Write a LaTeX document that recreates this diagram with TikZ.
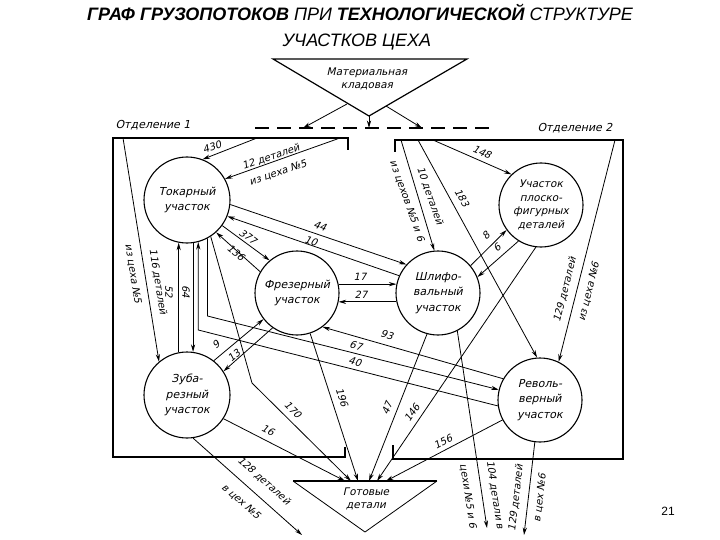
\documentclass[tikz,border=0pt]{standalone}
\usepackage{fontspec}
\setmainfont{Liberation Sans}
\newfontfamily\dfont{DejaVu Sans}[FakeSlant=0.22]
\usetikzlibrary{arrows.meta}
\newcommand\lblfont{\dfont\fontsize{10}{12}\selectfont}
\newcommand\secfont{\dfont\fontsize{11}{15.5}\selectfont}
\newcommand\secfontb{\dfont\fontsize{10.5}{13.5}\selectfont}
\begin{document}
\begin{tikzpicture}[x=1pt,y=-1pt,
 sec/.style={circle,draw,line width=1.1pt,inner sep=0pt,minimum size=84pt,align=center,font=\secfont},
 flow/.style={line width=0.8pt,-{Stealth[length=7.5pt,width=4.2pt]}},
 frame/.style={line width=1.2pt},
 lab/.style={font=\lblfont,inner sep=0.5pt},
 twolab/.style={font=\lblfont,inner sep=0.5pt,align=center}]
\useasboundingbox (0,0) rectangle (720,540);
\fill[white] (0,0) rectangle (720,540);

% title
\node[font=\fontsize{18}{20}\selectfont\itshape,anchor=base,inner sep=0pt] (title1) at (360,20.5)
  {\textbf{ГРАФ ГРУЗОПОТОКОВ} ПРИ \textbf{ТЕХНОЛОГИЧЕСКОЙ} СТРУКТУРЕ};
\node[font=\fontsize{18}{20}\selectfont\itshape,anchor=base,inner sep=0pt] (title2) at (357,46.5)
  {УЧАСТКОВ ЦЕХА};
\node[font=\fontsize{12}{14}\selectfont,inner sep=0pt] (page) at (668,511) {21};

% warehouse triangle
\coordinate (m1) at (273,59);
\coordinate (m2) at (467,59);
\coordinate (m3) at (369,116);
\draw[frame] (m1) -- (m2) -- (m3) -- cycle;
\node[font=\secfontb,align=center] (mat) at (367,79) {Материальная\\кладовая};
\coordinate (d1) at (255,128);
\coordinate (d2) at (490,128);
\draw[line width=1.2pt,dash pattern=on 14pt off 8pt] (d1) -- (d2);
\coordinate (ma) at (369,128);
\coordinate (ml) at (347,104);
\coordinate (mla) at (303,128);
\coordinate (mr) at (386,106);
\coordinate (mra) at (422,128);
\draw[flow] (m3) -- (ma);
\draw[flow] (ml) -- (mla);
\draw[flow] (mr) -- (mra);

% departments
\node[font=\secfont] (otd1) at (153,125) {Отделение 1};
\node[font=\secfont] (otd2) at (575,128) {Отделение 2};
\draw[frame] (348,150) -- (348,138) -- (113,138) -- (113,457) -- (345,457) -- (345,447);
\draw[frame] (395,152) -- (395,140) -- (623,140) -- (623,459) -- (393,459) -- (393,445);

% sections
\node[sec,minimum size=86pt] (tok) at (187,200) {Токарный\\участок};
\node[sec,minimum size=86pt] (zub) at (187,395) {Зуба-\\резный\\участок};
\node[sec] (frez) at (297,293) {Фрезерный\\участок};
\node[sec] (shl) at (438,293) {Шлифо-\\вальный\\участок};
\node[sec,font=\secfontb] (plo) at (541,205) {Участок\\плоско-\\фигурных\\деталей};
\node[sec] (rev) at (540,400) {Револь-\\верный\\участок};

% finished parts triangle
\coordinate (t1) at (293,481);
\coordinate (t2) at (437,481);
\coordinate (t3) at (365,532);
\draw[line width=0.8pt] (t2) -- (t3) -- (t1);
\draw[line width=1.4pt] (t1) -- (t2);
\node[font=\secfontb,align=center] (got) at (366,499) {Готовые\\детали};
\coordinate (g16) at (345,481);
\coordinate (g170) at (351,481);
\coordinate (g196) at (358,481);
\coordinate (g47) at (369,481);
\coordinate (g146) at (377,481);
\coordinate (g156) at (386,481);

% frame start points and free ends
\coordinate (s430) at (257,138);
\coordinate (s12) at (340,138);
\coordinate (s116) at (123,138);
\coordinate (s10) at (401,140);
\coordinate (s183) at (418,140);
\coordinate (s148) at (433,140);
\coordinate (s129) at (615,140);
\coordinate (e128) at (302,535);
\coordinate (e104) at (487,528);
\coordinate (e129) at (524,535);
\coordinate (b170) at (252,383);
\coordinate (b67) at (0,316);
\coordinate (b40) at (0,330);

% connectors
\draw[flow] (s430) -- (tok.69);
\draw[flow] (s12) -- (tok.29);
\draw[flow] (s116) -- (zub.130);
\draw[flow] (zub.101) -- (tok.259);
\draw[flow] (tok.-82) -- (zub.82);
\draw[flow] (tok.-6) -- (shl.138);
\draw[flow] (shl.156) -- (tok.-22);
\draw[flow] (tok.-36) -- (frez.130);
\draw[flow] (frez.150) -- (tok.-48);
\draw[flow] (frez.12) -- (shl.168);
\draw[flow] (shl.192) -- (frez.-12);
\draw[flow] (shl.40) -- (plo.216);
\draw[flow] (plo.238) -- (shl.22);
\draw[flow] (s148) -- (plo.134);
\draw[flow] (s183) -- (rev.94);
\draw[flow] (s10) -- (shl.95);
\draw[flow] (s129) -- (rev.64);
\draw[flow] (rev.150) -- (frez.-53);
\draw[flow] (tok.-62) -- (tok.-62 |- b67) -- (rev.166);
\draw[flow] (rev.188) -- (tok.-75 |- b40) -- (tok.-75);
\draw[flow] (zub.52) -- (frez.218);
\draw[flow] (frez.235) -- (zub.33);
\draw[flow] (tok.-57) -- (b170) -- (g170);
\draw[flow] (frez.-72) -- (g196);
\draw[flow] (zub.-33) -- (g16);
\draw[flow] (shl.-105) -- (g47);
\draw[flow] (plo.-97) -- (g146);
\draw[flow] (rev.208) -- (g156);
\draw[flow] (zub.-82) -- (e128);
\draw[flow] (shl.-63) -- (e104);
\draw[flow] (rev.263) -- (e129);

% labels
\node[lab,rotate=19] (l430) at (212,147) {430};
\node[lab,rotate=19] (l12a) at (271,157) {12 деталей};
\node[lab,rotate=19] (l12b) at (278,173) {из цеха №5};
\node[lab,rotate=-81] (l116a) at (158,282) {116 деталей};
\node[lab,rotate=-81] (l116b) at (133,274) {из цеха №5};
\node[lab,rotate=-90] (l52) at (169,292) {52};
\node[lab,rotate=-90] (l64) at (186,292) {64};
\node[lab,rotate=-18.7] (l44) at (320,226) {44};
\node[lab,rotate=-18.7] (l10) at (311,241) {10};
\node[lab,rotate=-37] (l377) at (248,237) {377};
\node[lab,rotate=-40] (l136) at (236,253) {136};
\node[lab] (l17) at (360,277) {17};
\node[lab] (l27) at (361,295) {27};
\node[lab,rotate=44] (l8) at (486,236) {8};
\node[lab,rotate=40] (l6) at (497,248) {6};
\node[lab,rotate=-24] (l148) at (482,152) {148};
\node[lab,rotate=-61] (l183) at (462,198) {183};
\node[lab,rotate=-70.5] (l10a) at (430,196) {10 деталей};
\node[lab,rotate=-70.5] (l10b) at (407,201) {из цехов №5 и 6};
\node[lab,rotate=75.8] (l129a) at (565,290) {129 деталей};
\node[lab,rotate=75.8] (l129b) at (589,292) {из цеха №6};
\node[lab,rotate=-16] (l93) at (387,335) {93};
\node[lab,rotate=-14] (l67) at (356,346) {67};
\node[lab,rotate=-14] (l40) at (355,362) {40};
\node[lab,rotate=40] (l9) at (216,345) {9};
\node[lab,rotate=40] (l13) at (234,356) {13};
\node[lab,rotate=-45] (l170) at (293,410) {170};
\node[lab,rotate=-72] (l196) at (342,397) {196};
\node[lab,rotate=-27] (l16) at (268,430) {16};
\node[lab,rotate=68.5] (l47) at (387,408) {47};
\node[lab,rotate=56] (l146) at (412,413) {146};
\node[lab,rotate=27.5] (l156) at (443,442) {156};
\node[lab,rotate=-41.7] (l128a) at (264,481) {128 деталей};
\node[lab,rotate=-41.7] (l128b) at (241,502) {в цех №5};
\node[lab,rotate=-81.4] (l104a) at (495,495) {104 детали в};
\node[lab,rotate=-81.4] (l104b) at (468,496) {цехи №5 и 6};
\node[lab,rotate=83.3] (l129c) at (516,498) {129 деталей};
\node[lab,rotate=83.3] (l129d) at (540,498) {в цех №6};
\end{tikzpicture}
\end{document}
